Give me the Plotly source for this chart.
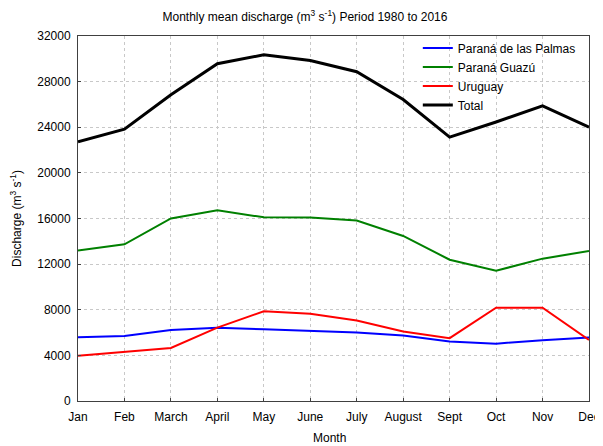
import plotly.graph_objects as go

months = ["Jan", "Feb", "March", "April", "May", "June", "July", "August", "Sept", "Oct", "Nov", "Dec"]
palmas = [5600, 5690, 6220, 6430, 6280, 6160, 6010, 5740, 5210, 5030, 5330, 5560]
guazu = [13200, 13740, 16000, 16730, 16100, 16090, 15820, 14470, 12390, 11420, 12480, 13150]
uruguay = [3970, 4290, 4650, 6430, 7870, 7640, 7050, 6100, 5510, 8180, 8180, 5360]
total = [22720, 23830, 26850, 29570, 30350, 29850, 28870, 26430, 23130, 24460, 25880, 24000]
yticks = [0, 4000, 8000, 12000, 16000, 20000, 24000, 28000, 32000]

FONT = "Liberation Sans, Arial, sans-serif"

fig = go.Figure()
fig.add_trace(go.Scatter(x=months, y=palmas, mode="lines", name="Paraná de las Palmas",
                         line=dict(color="#0000ff", width=2)))
fig.add_trace(go.Scatter(x=months, y=guazu, mode="lines", name="Paraná Guazú",
                         line=dict(color="#008000", width=2)))
fig.add_trace(go.Scatter(x=months, y=uruguay, mode="lines", name="Uruguay",
                         line=dict(color="#ff0000", width=2)))
fig.add_trace(go.Scatter(x=months, y=total, mode="lines", name="Total",
                         line=dict(color="#000000", width=3)))

# page body has an 8px margin, so the figure is laid out in (screen - 8) coordinates
W, H = 595, 438
L, R, T, B = 69, 3, 28, 45
PW, PH = W - L - R, H - T - B

fig.update_layout(
    width=W, height=H,
    margin=dict(l=L, r=R, t=T, b=B),
    paper_bgcolor="white", plot_bgcolor="white",
    font=dict(family=FONT, size=12, color="#000000"),
    title=dict(text="Monthly mean discharge (m<sup>3</sup> s<sup>-1</sup>) Period 1980 to 2016",
               x=297 / W, xanchor="center", xref="container",
               y=1 - 9 / H, yanchor="middle", yref="container",
               font=dict(family=FONT, size=12, color="#000000")),
    showlegend=True,
    legend=dict(x=0.665, y=1.007, xanchor="left", yanchor="top",
                bgcolor="rgba(0,0,0,0)", borderwidth=0,
                font=dict(family=FONT, size=12, color="#000000"),
                tracegroupgap=0, itemwidth=30),
    xaxis=dict(
        type="category", categoryorder="array", categoryarray=months,
        range=[0, 11], showline=True, linecolor="#404040", linewidth=1, mirror=True,
        showgrid=True, gridcolor="#c8c8c8", griddash="dot", gridwidth=1,
        ticks="inside", ticklen=3, tickcolor="#404040",
        tickfont=dict(family=FONT, size=12, color="#000000"),
        ticklabelstandoff=5,
        zeroline=False,
    ),
    yaxis=dict(
        range=[0, 32000], tickvals=yticks, ticktext=[str(v) for v in yticks],
        showline=True, linecolor="#404040", linewidth=1, mirror=True,
        showgrid=True, gridcolor="#c8c8c8", griddash="dot", gridwidth=1,
        ticks="inside", ticklen=3, tickcolor="#404040",
        tickfont=dict(family=FONT, size=12, color="#000000"),
        ticklabelstandoff=4,
        title=dict(text="Discharge (m<sup>3</sup> s<sup>-1</sup>)", standoff=18,
                   font=dict(family=FONT, size=12, color="#000000")),
        zeroline=False,
    ),
    annotations=[dict(text="Month", xref="paper", yref="paper",
                      x=(326 - L) / PW, y=-(430 - (H - B)) / PH,
                      xanchor="center", yanchor="middle", showarrow=False,
                      font=dict(family=FONT, size=12, color="#000000"))],
)

fig.write_html("out.html")
